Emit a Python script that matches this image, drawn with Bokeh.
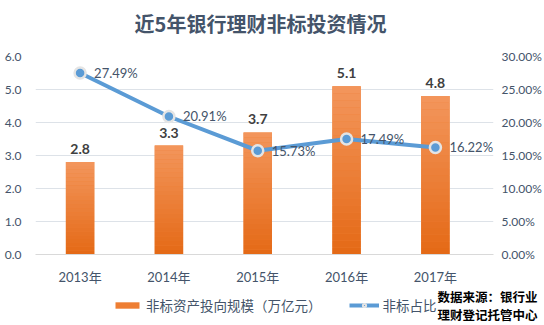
import numpy as np
from bokeh.plotting import figure
from bokeh.layouts import column
from bokeh.models import (Range1d, LinearAxis, NumeralTickFormatter,
                          FixedTicker, Legend, LegendItem, Label, ColumnDataSource)
from bokeh.core.properties import value
from bokeh.embed import file_html
from bokeh.resources import INLINE

years = ["2013年", "2014年", "2015年", "2016年", "2017年"]
scale = [2.8, 3.3, 3.7, 5.1, 4.8]            # 非标资产投向规模（万亿元）
share = [0.2749, 0.2091, 0.1573, 0.1749, 0.1622]  # 非标占比
scale_labels = ["2.8", "3.3", "3.7", "5.1", "4.8"]
share_labels = ["27.49%", "20.91%", "15.73%", "17.49%", "16.22%"]
title_text = "近5年银行理财非标投资情况"
source_lines = ["数据来源：银行业", "理财登记托管中心"]

FONT = "Lato, 'Noto Sans CJK SC', sans-serif"
CJK = "'Noto Sans CJK SC', sans-serif"
TXT = "#44546A"
BAR = "#EE7E33"
LINE = "#5B9BD5"

xs = list(range(len(years)))

# ---------- header (title) ----------
h = figure(frame_width=544, frame_height=48, x_range=Range1d(0, 544), y_range=Range1d(0, 48),
           output_backend="svg", toolbar_location=None, x_axis_location=None,
           y_axis_location=None, min_border=0)
h.frame_align = False
h.outline_line_color = None
h.grid.visible = False
h.add_layout(Label(x=260, y=25, x_units="screen", y_units="screen", text=title_text,
                   text_align="center", text_baseline="middle", text_font=CJK,
                   text_font_size="20px", text_font_style="bold", text_color=TXT))

# ---------- main chart ----------
p = figure(width=544, height=239, x_range=Range1d(-0.502, 4.654), y_range=Range1d(0, 6),
           output_backend="svg", toolbar_location=None,
           min_border_left=35, min_border_right=47, min_border_top=8, min_border_bottom=29)
p.outline_line_color = None
p.background_fill_color = "white"
p.extra_y_ranges = {"pct": Range1d(0, 0.30)}

src = ColumnDataSource(dict(x=xs, top=scale))
base = p.vbar(x="x", top="top", width=0.32, source=src, fill_color=BAR, line_color=None)

n = 24
c_top = (243, 150, 92)
c_bot = (228, 105, 22)
for i in range(n):
    f0, f1 = i / n, (i + 1) / n
    t = (i + 0.5) / n
    col = "#%02x%02x%02x" % tuple(int(round(c_bot[k] + (c_top[k] - c_bot[k]) * t)) for k in range(3))
    p.vbar(x=xs, bottom=[v * f0 for v in scale], top=[v * f1 for v in scale], width=0.32,
           fill_color=col, line_color=None)

p.text(x=xs, y=scale, text=scale_labels, text_align="center", text_baseline="bottom",
       y_offset=-8, text_font=value(FONT), text_font_size="14px", text_font_style="bold",
       text_color="#404040")

p.line(x=xs, y=share, y_range_name="pct", line_color=LINE, line_width=4)
p.scatter(x=xs, y=share, y_range_name="pct", size=11, fill_color=LINE,
          line_color="#E4E4E4", line_width=2.5)
p.text(x=xs, y=share, text=share_labels, y_range_name="pct", x_offset=14,
       text_align="left", text_baseline="middle", text_font=value(FONT),
       text_font_size="13px", text_color=TXT)

p.yaxis.ticker = FixedTicker(ticks=[0, 1, 2, 3, 4, 5, 6])
p.yaxis.formatter = NumeralTickFormatter(format="0.0")
p.yaxis.axis_line_color = None
p.yaxis.major_tick_line_color = None
p.yaxis.minor_tick_line_color = None
p.yaxis.major_label_text_font = FONT
p.yaxis.major_label_text_font_size = "12px"
p.yaxis.major_label_text_color = TXT
p.yaxis.major_label_standoff = 8

ra = LinearAxis(y_range_name="pct", ticker=FixedTicker(ticks=[0, 0.05, 0.10, 0.15, 0.20, 0.25, 0.30]),
                formatter=NumeralTickFormatter(format="0.00%"))
ra.axis_line_color = None
ra.major_tick_line_color = None
ra.minor_tick_line_color = None
ra.major_label_text_font = FONT
ra.major_label_text_font_size = "12px"
ra.major_label_text_color = TXT
ra.major_label_standoff = 2
p.add_layout(ra, "right")

p.xaxis.ticker = FixedTicker(ticks=xs)
p.xaxis.major_label_overrides = {i: y for i, y in zip(xs, years)}
p.xaxis.axis_line_color = "#D9D9D9"
p.xaxis.major_tick_line_color = None
p.xaxis.minor_tick_line_color = None
p.xaxis.major_label_text_font = FONT
p.xaxis.major_label_text_font_size = "13px"
p.xaxis.major_label_text_color = TXT
p.xaxis.major_label_standoff = 8

p.xgrid.grid_line_color = None
p.ygrid.grid_line_color = "#DDE2E8"
p.ygrid.ticker = FixedTicker(ticks=[0, 1, 2, 3, 4, 5, 6])

# ---------- footer: legend + source note ----------
f = figure(frame_width=544, frame_height=38, x_range=Range1d(0, 544), y_range=Range1d(0, 38),
           output_backend="svg", toolbar_location=None, x_axis_location=None,
           y_axis_location=None, min_border=0)
f.frame_align = False
f.outline_line_color = None
f.grid.visible = False
nan = [np.nan]
lb = f.vbar(x=nan, top=nan, width=1, fill_color=BAR, line_color=None)
ll = f.line(x=nan, y=nan, line_color=LINE, line_width=4)
lp = f.scatter(x=nan, y=nan, size=9, fill_color=LINE, line_color="#E4E4E4", line_width=2)

legend = Legend(items=[LegendItem(label="非标资产投向规模（万亿元）", renderers=[lb]),
                       LegendItem(label="非标占比", renderers=[ll, lp])],
                orientation="horizontal", location=(112, 10),
                label_text_font=CJK, label_text_font_size="13.5px", label_text_color=TXT,
                glyph_width=30, glyph_height=8, spacing=27, padding=0, margin=0,
                label_standoff=4, border_line_color=None, background_fill_alpha=0)
f.add_layout(legend, "center")

f.add_layout(Label(x=537, y=29, x_units="screen", y_units="screen", text=source_lines[0],
                   text_align="right", text_baseline="middle", text_font=CJK,
                   text_font_size="12.5px", text_font_style="bold", text_color="#000000"))
f.add_layout(Label(x=537, y=11, x_units="screen", y_units="screen", text=source_lines[1],
                   text_align="right", text_baseline="middle", text_font=CJK,
                   text_font_size="12.5px", text_font_style="bold", text_color="#000000"))

layout = column(h, p, f, spacing=0)
open("out.html", "w").write(file_html(layout, INLINE))
